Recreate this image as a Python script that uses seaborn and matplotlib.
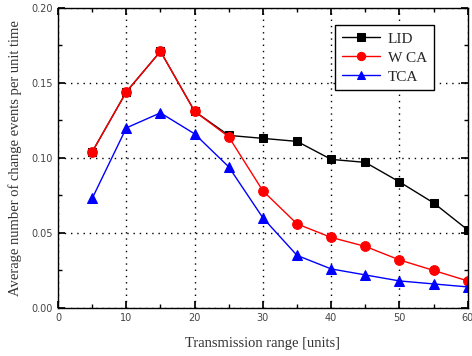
import matplotlib
matplotlib.use('Agg')
import matplotlib.pyplot as plt
import seaborn as sns
import pandas as pd
from matplotlib.ticker import MultipleLocator

# transmission range and average change events per unit time
ranges = [5, 10, 15, 20, 25, 30, 35, 40, 45, 50, 55, 60]
lid = [0.104, 0.144, 0.171, 0.131, 0.115, 0.113, 0.111, 0.099, 0.097, 0.084, 0.070, 0.052]
wca = [0.104, 0.144, 0.171, 0.131, 0.114, 0.078, 0.056, 0.047, 0.041, 0.032, 0.025, 0.018]
tca = [0.073, 0.120, 0.130, 0.116, 0.094, 0.060, 0.035, 0.026, 0.022, 0.018, 0.016, 0.014]

df = pd.DataFrame({'range': ranges * 3,
                   'value': lid + wca + tca,
                   'algo': ['LID'] * 12 + ['W CA'] * 12 + ['TCA'] * 12})

sns.set_theme(style='ticks')
plt.rcParams['font.family'] = ['DejaVu Sans']

fig = plt.figure(figsize=(4.72, 3.56), dpi=100)
ax = fig.add_axes([0.123, 0.135, 0.868, 0.843])

palette = {'LID': 'black', 'W CA': 'red', 'TCA': 'blue'}
markers = {'LID': 's', 'W CA': 'o', 'TCA': '^'}
sizes = {'LID': 6, 'W CA': 7, 'TCA': 7.5}
for name in ['LID', 'W CA', 'TCA']:
    sub = df[df['algo'] == name]
    sns.lineplot(data=sub, x='range', y='value', ax=ax, color=palette[name],
                 marker=markers[name], markersize=sizes[name], linewidth=1,
                 markeredgecolor=palette[name], label=name)

ax.set_xlim(0, 60)
ax.set_ylim(0, 0.20)
ax.xaxis.set_major_locator(MultipleLocator(10))
ax.xaxis.set_minor_locator(MultipleLocator(5))
ax.yaxis.set_major_locator(MultipleLocator(0.05))
ax.yaxis.set_minor_locator(MultipleLocator(0.025))
ax.yaxis.set_major_formatter(matplotlib.ticker.FormatStrFormatter('%.2f'))
ax.grid(True, which='major', color='black', linestyle=(0, (1, 3.5)), linewidth=1)
ax.tick_params(which='both', direction='in', top=True, right=True,
               labelsize=7, labelcolor='#444444', color='black')
ax.tick_params(which='major', length=5)
ax.tick_params(which='minor', length=3)
for s in ax.spines.values():
    s.set_color('black')
    s.set_linewidth(1)

ax.set_xlabel('Transmission range [units]', fontsize=10.5, color='#333333',
              family='Liberation Serif', labelpad=10)
ax.set_ylabel('Average number of change events per unit time', fontsize=10.5,
              color='#333333', family='Liberation Serif', labelpad=7)

leg = ax.legend(loc='upper right', bbox_to_anchor=(0.917, 0.943),
                borderaxespad=0,
                prop={'family': 'Liberation Serif', 'size': 11},
                fancybox=False, framealpha=1, edgecolor='black',
                handlelength=2.5, borderpad=0.45, labelspacing=0.35,
                handletextpad=0.5, markerscale=0.85)
leg.get_frame().set_linewidth(1)

fig.savefig('out.png', dpi=100)
